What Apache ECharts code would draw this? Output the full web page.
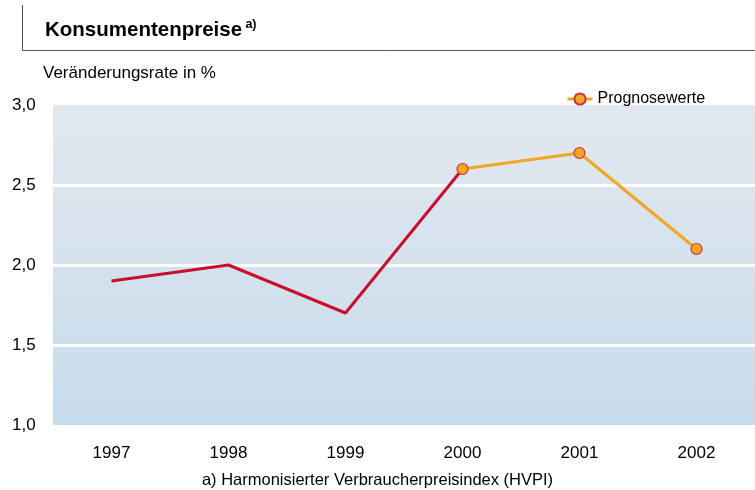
<!DOCTYPE html>
<html><head><meta charset="utf-8">
<script src="https://cdn.jsdelivr.net/npm/echarts@6/dist/echarts.min.js"></script>
<style>html,body{margin:0;padding:0;background:#fff}#c{width:755px;height:490px}</style>
</head><body><div id="c"></div>
<script>
const years = ['1997','1998','1999','2000','2001','2002'];
const actual = [1.9, 2.0, 1.7, 2.6, null, null];
const forecast = [null, null, null, 2.6, 2.7, 2.1];
const yTicks = [1.0, 1.5, 2.0, 2.5, 3.0];

const chart = echarts.init(document.getElementById('c'), null, {renderer:'canvas'});
const F = 'Liberation Sans, Arial, sans-serif';
chart.setOption({
  animation:false,
  textStyle:{fontFamily:F},
  grid:{left:53, right:0, top:105, bottom:65, show:true, borderWidth:0,
    backgroundColor:new echarts.graphic.LinearGradient(0,0,0,1,[{offset:0,color:'#e3e8ef'},{offset:1,color:'#c6dcec'}])},
  graphic:[
    {type:'line', shape:{x1:22.5,y1:5,x2:22.5,y2:50.5}, style:{stroke:'#555',lineWidth:1}},
    {type:'line', shape:{x1:22,y1:50.5,x2:755,y2:50.5}, style:{stroke:'#555',lineWidth:1}},
    {type:'text', left:45, top:18, style:{text:'{t|Konsumentenpreise} {s|a)}', rich:{
      t:{fontSize:20.5, fontWeight:'bold', fill:'#000', fontFamily:F},
      s:{fontSize:12.5, fontWeight:'bold', fill:'#000', fontFamily:F, verticalAlign:'top', padding:[0,0,12,0]}}}},
    {type:'text', left:43, top:65, style:{text:'Veränderungsrate in %', fontSize:17, fill:'#000', fontFamily:F}},
    {type:'text', left:'center', top:472, style:{text:'a) Harmonisierter Verbraucherpreisindex (HVPI)', fontSize:16.5, fill:'#000', fontFamily:F}}
  ],
  legend:{data:['Prognosewerte'], left:561, top:86, itemWidth:25, itemHeight:14, itemGap:5,
    lineStyle:{width:3},
    textStyle:{fontSize:16, color:'#000', fontFamily:F}},
  xAxis:{type:'category', data:years, boundaryGap:true,
    axisLine:{show:false}, axisTick:{show:false},
    axisLabel:{fontSize:17, color:'#000', margin:20, fontFamily:F}},
  yAxis:{type:'value', min:1.0, max:3.0, interval:0.5,
    axisLine:{show:false}, axisTick:{show:false},
    axisLabel:{fontSize:17, color:'#000', margin:15, align:'left', padding:[0,0,0,-26],
      formatter:v=>v.toFixed(1).replace('.',','), fontFamily:F},
    splitLine:{show:true, lineStyle:{color:['rgba(0,0,0,0)','#fff','#fff','#fff','rgba(0,0,0,0)'], width:3}}},
  series:[
    {name:'Ist', type:'line', data:actual, showSymbol:false, symbol:'none',
      lineStyle:{color:'#c8102e', width:3}, itemStyle:{color:'#c8102e'}, z:2},
    {name:'Prognosewerte', type:'line', data:forecast, symbol:'circle', symbolSize:11,
      lineStyle:{color:'#f2a626', width:3}, itemStyle:{color:'#f2a626', borderColor:'#d0303c', borderWidth:1.2}, z:3}
  ]
});
</script></body></html>
